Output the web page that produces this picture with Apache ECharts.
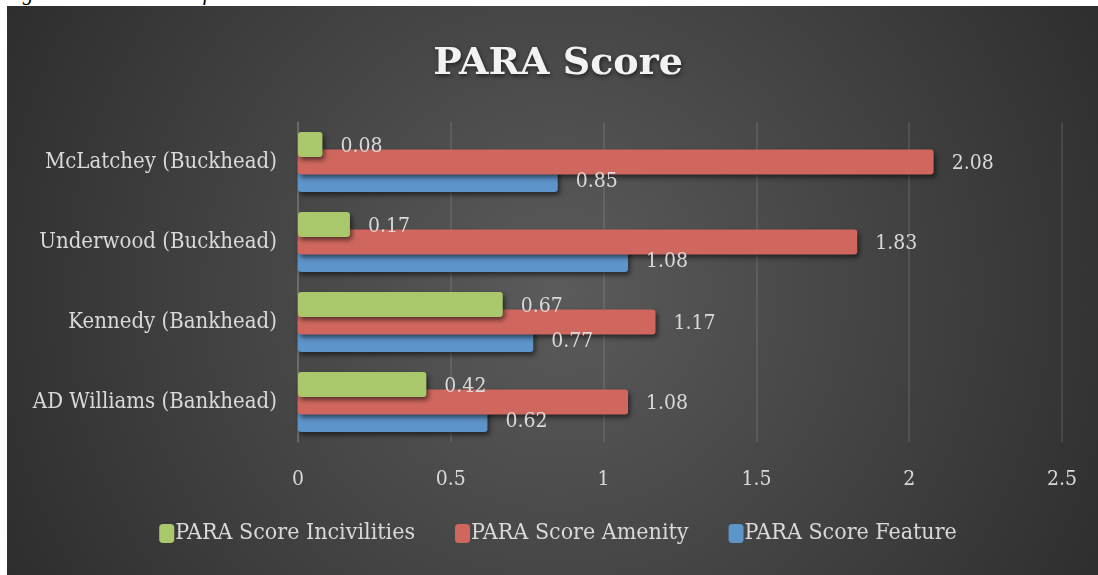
<!DOCTYPE html>
<html>
<head>
<meta charset="utf-8">
<script src="https://cdn.jsdelivr.net/npm/echarts@6/dist/echarts.min.js"></script>
<style>
  html, body { margin: 0; padding: 0; background: #ffffff; overflow: hidden; }
  .caption {
    position: absolute;
    left: 0;
    top: 0;
    width: 1098px;
    height: 6px;
    overflow: hidden;
  }
  .caption span {
    position: absolute;
    left: 4px;
    top: -19px;
    font: italic 21px "Liberation Serif", serif;
    color: #000;
    white-space: nowrap;
  }
  #chartPara {
    position: absolute;
    left: 7px;
    top: 6px;
    width: 1102px;
    height: 569px;
  }
</style>
</head>
<body>
<div class="caption"><span>Figure 11: PARA Score for Studied Parks</span></div>
<div id="chartPara"></div>
<script>
  const parks = ["AD Williams (Bankhead)", "Kennedy (Bankhead)", "Underwood (Buckhead)", "McLatchey (Buckhead)"];
  const incivilities = [0.42, 0.67, 0.17, 0.08];
  const amenity = [1.08, 1.17, 1.83, 2.08];
  const feature = [0.62, 0.77, 1.08, 0.85];

  const serif = '"DejaVu Serif Condensed", "DejaVu Serif", serif';
  const labelColor = "#d9d9d9";

  const barStyle = (color) => ({
    color: color,
    borderRadius: 3,
    shadowBlur: 5,
    shadowOffsetX: 2,
    shadowOffsetY: 3,
    shadowColor: "rgba(0,0,0,0.55)"
  });

  // visible bars, no labels (green on top of red on top of blue)
  const barSeries = (name, data, color, z) => ({
    name: name,
    type: "bar",
    data: data,
    barWidth: 25,
    barGap: "-30%",
    z: z,
    itemStyle: barStyle(color),
    label: { show: false }
  });

  // invisible copies on a hidden axis, only to draw the value labels above every bar
  const labelSeries = (data) => ({
    type: "bar",
    yAxisIndex: 1,
    data: data,
    barWidth: 25,
    barGap: "-30%",
    z: 10,
    silent: true,
    itemStyle: { color: "rgba(0,0,0,0)" },
    label: {
      show: true,
      position: "right",
      distance: 18,
      offset: [0, 2],
      color: labelColor,
      fontFamily: serif,
      fontSize: 21
    }
  });

  const option = {
    backgroundColor: {
      type: "radial",
      x: 0.5,
      y: 0.5,
      r: 1.15,
      colorStops: [
        { offset: 0, color: "#5b5b5b" },
        { offset: 1, color: "#2b2b2b" }
      ]
    },
    title: {
      text: "PARA Score",
      left: "center",
      top: 34,
      textStyle: {
        color: "#f2f2f2",
        fontFamily: '"DejaVu Serif", serif',
        fontWeight: "bold",
        fontSize: 38,
        textShadowColor: "rgba(0,0,0,0.6)",
        textShadowBlur: 4,
        textShadowOffsetX: 1,
        textShadowOffsetY: 2
      }
    },
    legend: {
      bottom: 25,
      left: "center",
      itemGap: 40,
      itemWidth: 15,
      itemHeight: 19,
      icon: "roundRect",
      data: ["PARA Score Incivilities", "PARA Score Amenity", "PARA Score Feature"],
      textStyle: {
        color: labelColor,
        fontFamily: serif,
        fontSize: 23,
        padding: [0, 0, 0, -4]
      }
    },
    grid: {
      left: 291,
      right: 47,
      top: 116,
      bottom: 133
    },
    xAxis: {
      type: "value",
      min: 0,
      max: 2.5,
      interval: 0.5,
      axisLine: { show: false },
      axisTick: { show: false },
      axisLabel: {
        color: labelColor,
        fontFamily: serif,
        fontSize: 21,
        margin: 27
      },
      splitLine: {
        lineStyle: { color: "rgba(255,255,255,0.13)", width: 1.5 }
      }
    },
    yAxis: [
      {
        type: "category",
        data: parks,
        axisLine: { lineStyle: { color: "rgba(255,255,255,0.16)", width: 1.5 } },
        axisTick: { show: false },
        axisLabel: {
          color: labelColor,
          fontFamily: serif,
          fontSize: 22,
          margin: 21,
          padding: [5, 0, 0, 0]
        }
      },
      {
        type: "category",
        data: parks,
        position: "left",
        show: false
      }
    ],
    series: [
      barSeries("PARA Score Incivilities", incivilities, "#a9c76b", 4),
      barSeries("PARA Score Amenity", amenity, "#cf675f", 3),
      barSeries("PARA Score Feature", feature, "#5d95ca", 2),
      labelSeries(incivilities),
      labelSeries(amenity),
      labelSeries(feature)
    ]
  };

  const chart = echarts.init(document.getElementById("chartPara"));
  chart.setOption(option);
</script>
</body>
</html>
